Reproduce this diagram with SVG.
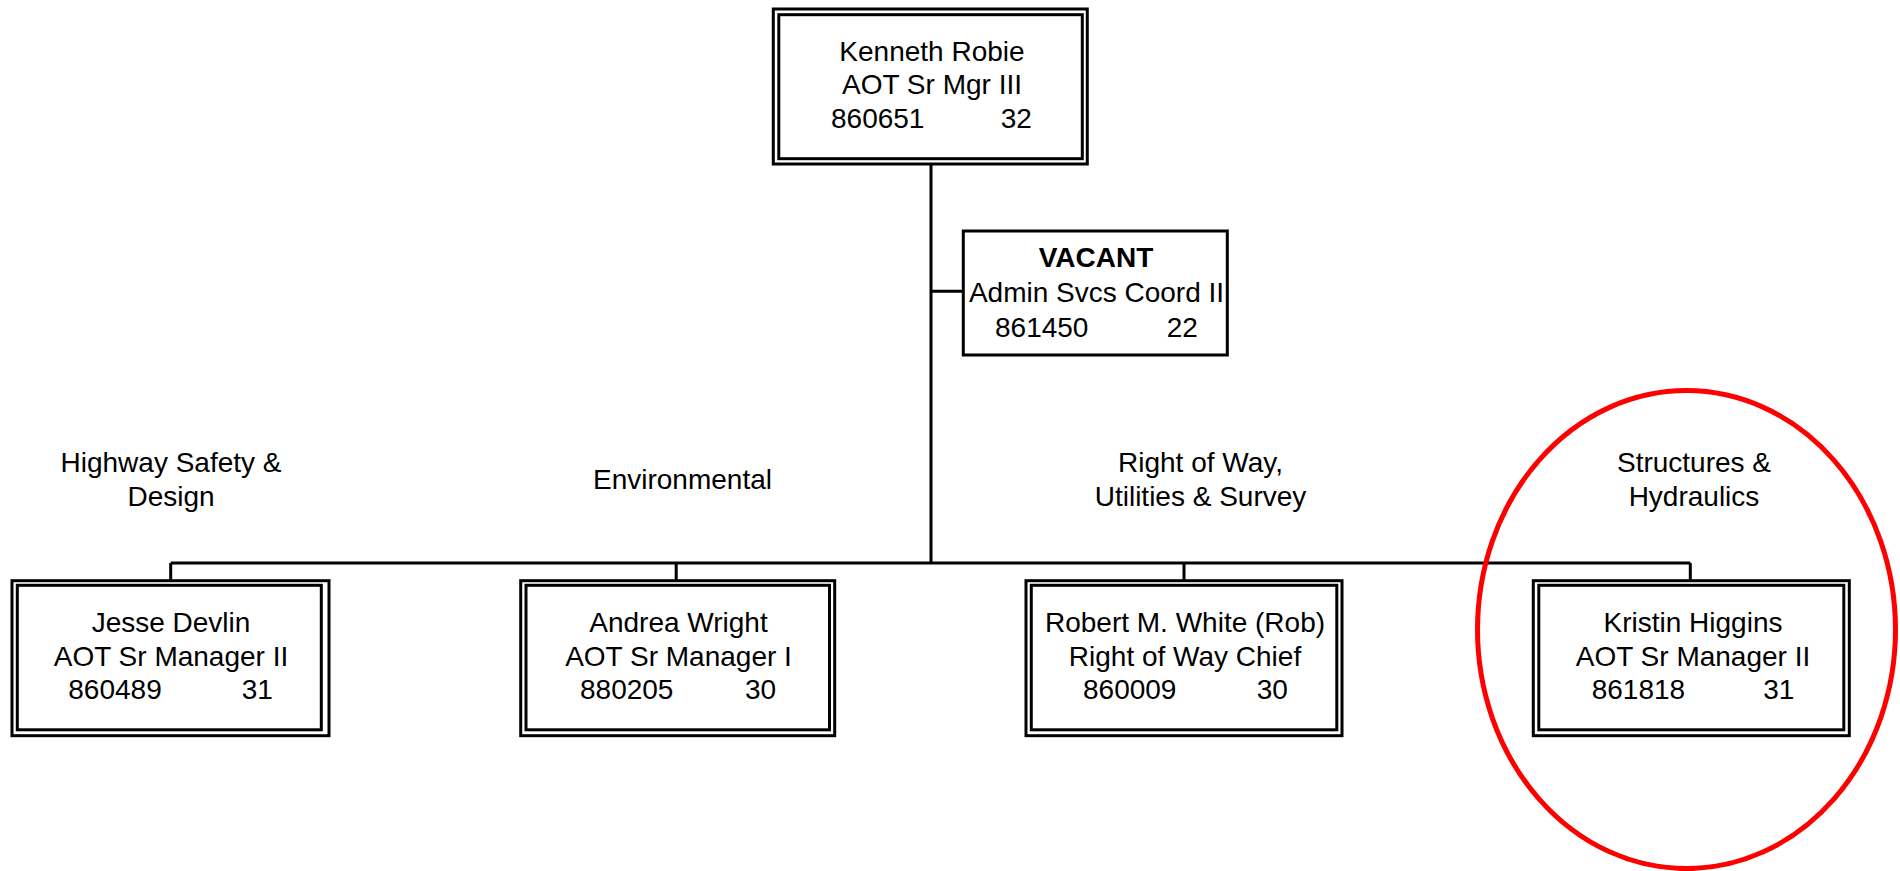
<svg xmlns="http://www.w3.org/2000/svg" width="1900" height="871" viewBox="0 0 1900 871">
<style>
text{font-family:"Liberation Sans",Arial,sans-serif;font-size:28px;fill:#000}
.c{text-anchor:middle}
.b{font-weight:bold}
.box{fill:#fff;stroke:#000;stroke-width:3}
.line{fill:none;stroke:#000;stroke-width:3}
</style>
<rect width="1900" height="871" fill="#fff"/>
<g id="connectors">
<path class="line" d="M931 164V563M931 291.3H963.3M170.7 563H1690.3M170.7 563V580.7M676.2 563V580.7M1184 563V580.7M1690.3 563V580.7"/>
</g>
<g id="top">
<rect class="box" x="773.3" y="9" width="314" height="155"/>
<rect class="box" x="778.8" y="14.7" width="303.5" height="144"/>
<text class="c" x="932" y="60.7">Kenneth Robie</text>
<text class="c" x="932" y="94">AOT Sr Mgr III</text>
<text x="831" y="128">860651</text>
<text x="1000.7" y="128">32</text>
</g>
<g id="vacant">
<rect class="box" x="963.3" y="231" width="264" height="124"/>
<text class="c b" x="1096" y="267">VACANT</text>
<text class="c" x="1096.5" y="302">Admin Svcs Coord II</text>
<text x="995" y="337">861450</text>
<text x="1166.7" y="337">22</text>
</g>
<g id="labels">
<text class="c" x="171" y="472.3">Highway Safety &amp;</text>
<text class="c" x="171" y="505.7">Design</text>
<text class="c" x="682.5" y="489.3">Environmental</text>
<text class="c" x="1200.5" y="472.3">Right of Way,</text>
<text class="c" x="1200.5" y="505.7">Utilities &amp; Survey</text>
<text class="c" x="1694" y="471.7">Structures &amp;</text>
<text class="c" x="1694" y="506">Hydraulics</text>
</g>
<g id="devlin">
<rect class="box" x="12" y="580.7" width="317" height="155"/>
<rect class="box" x="17.3" y="585.3" width="304" height="144.5"/>
<text class="c" x="171" y="631.7">Jesse Devlin</text>
<text class="c" x="171" y="666">AOT Sr Manager II</text>
<text x="68.3" y="699.3">860489</text>
<text x="241.7" y="699.3">31</text>
</g>
<g id="wright">
<rect class="box" x="520.7" y="580.7" width="314" height="155"/>
<rect class="box" x="526" y="585.3" width="303.5" height="144.5"/>
<text class="c" x="678.5" y="631.7">Andrea Wright</text>
<text class="c" x="678.5" y="666">AOT Sr Manager I</text>
<text x="580" y="699.3">880205</text>
<text x="745" y="699.3">30</text>
</g>
<g id="white">
<rect class="box" x="1026" y="580.7" width="316" height="155"/>
<rect class="box" x="1031.3" y="585.3" width="305.5" height="144.5"/>
<text class="c" x="1185" y="631.7">Robert M. White (Rob)</text>
<text class="c" x="1185" y="666">Right of Way Chief</text>
<text x="1083" y="699.3">860009</text>
<text x="1256.7" y="699.3">30</text>
</g>
<g id="higgins">
<rect class="box" x="1533.3" y="580.7" width="316" height="155"/>
<rect class="box" x="1538.8" y="585.3" width="305" height="144.5"/>
<text class="c" x="1693" y="631.7">Kristin Higgins</text>
<text class="c" x="1693" y="666">AOT Sr Manager II</text>
<text x="1591.7" y="699.3">861818</text>
<text x="1763.3" y="699.3">31</text>
</g>
<g id="highlight">
<ellipse cx="1686.5" cy="629.6" rx="209" ry="239" fill="none" stroke="#f00" stroke-width="5"/>
</g>
</svg>
